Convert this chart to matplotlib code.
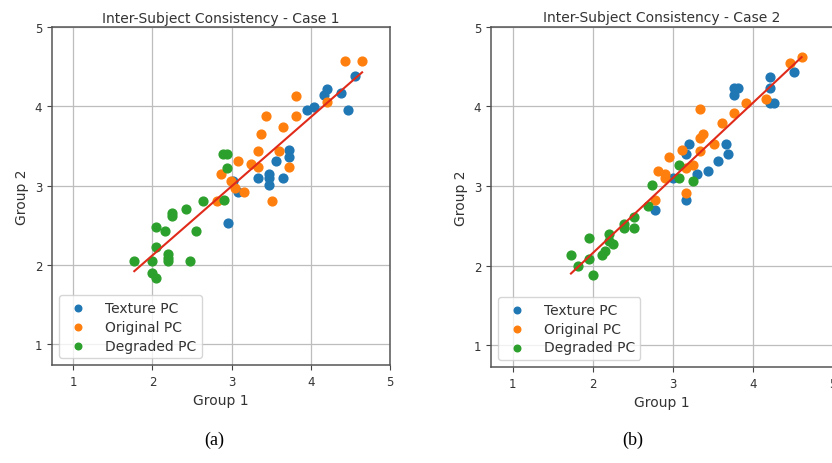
import numpy as np
import matplotlib
matplotlib.use("Agg")
import matplotlib.pyplot as plt

# ---- Case 1 ----
tex1_x = [4.56, 4.20, 4.17, 4.38, 3.95, 4.04, 4.47, 3.72, 3.72, 3.56, 3.47, 3.47, 3.33, 3.65, 3.47, 3.02, 3.08, 2.95]
tex1_y = [4.38, 4.22, 4.14, 4.17, 3.96, 3.99, 3.96, 3.45, 3.36, 3.31, 3.15, 3.09, 3.10, 3.10, 3.01, 3.06, 2.92, 2.53]
ori1_x = [4.43, 4.65, 3.81, 4.20, 3.43, 3.81, 3.65, 3.37, 3.33, 3.60, 3.08, 3.24, 3.33, 3.72, 2.86, 2.99, 3.04, 3.16, 2.81, 3.51]
ori1_y = [4.57, 4.57, 4.13, 4.05, 3.88, 3.88, 3.74, 3.65, 3.44, 3.44, 3.31, 3.27, 3.23, 3.23, 3.14, 3.06, 2.97, 2.92, 2.80, 2.80]
deg1_x = [2.89, 2.94, 2.94, 2.90, 2.64, 2.43, 2.25, 2.25, 2.04, 2.16, 2.55, 2.04, 2.20, 2.20, 2.20, 1.77, 1.99, 2.47, 1.99, 2.04]
deg1_y = [3.40, 3.40, 3.22, 2.82, 2.80, 2.70, 2.65, 2.61, 2.48, 2.43, 2.43, 2.22, 2.14, 2.09, 2.05, 2.05, 2.05, 2.05, 1.89, 1.83]

# ---- Case 2 ----
tex2_x = [4.52, 4.21, 4.21, 4.21, 4.26, 3.77, 3.82, 3.77, 3.66, 3.69, 3.56, 3.21, 3.17, 3.44, 3.30, 3.00, 3.17, 2.78]
tex2_y = [4.43, 4.37, 4.23, 4.05, 4.05, 4.23, 4.23, 4.14, 3.53, 3.40, 3.31, 3.53, 3.40, 3.19, 3.15, 3.10, 2.83, 2.70]
ori2_x = [4.61, 4.47, 4.17, 3.91, 3.77, 3.34, 3.62, 3.38, 3.34, 3.52, 3.34, 3.12, 2.95, 3.25, 3.17, 2.82, 2.90, 2.91, 3.17, 2.78]
ori2_y = [4.62, 4.54, 4.09, 4.05, 3.92, 3.97, 3.79, 3.66, 3.61, 3.53, 3.44, 3.45, 3.36, 3.27, 3.23, 3.19, 3.15, 3.10, 2.92, 2.83]
deg2_x = [3.08, 3.08, 3.26, 2.74, 2.69, 2.52, 2.52, 2.39, 2.39, 2.21, 2.25, 2.21, 2.16, 2.12, 1.95, 1.95, 1.82, 1.73, 2.00]
deg2_y = [3.27, 3.10, 3.06, 3.01, 2.75, 2.61, 2.48, 2.52, 2.48, 2.40, 2.27, 2.31, 2.19, 2.14, 2.35, 2.09, 2.00, 2.13, 1.88]

ticks = [1, 2, 3, 4, 5]

fig = plt.figure(figsize=(8.32, 4.64), dpi=100)
ax1 = fig.add_axes([0.0625, 0.211, 0.406, 0.728])
ax2 = fig.add_axes([0.590, 0.207, 0.411, 0.733])


def panel(ax, tx, ty, ox, oy, dx, dy, title):
    ax.scatter(tx, ty, color="tab:blue", s=40, label="Texture PC", zorder=3)
    ax.scatter(ox, oy, color="tab:orange", s=40, label="Original PC", zorder=3)
    ax.scatter(dx, dy, color="tab:green", s=40, label="Degraded PC", zorder=3)
    # recta de ajuste sobre todos los puntos
    allx = np.array(tx + ox + dx)
    ally = np.array(ty + oy + dy)
    k, b = np.polyfit(allx, ally, 1)
    xs = np.array([allx.min(), allx.max()])
    ax.plot(xs, k * xs + b, color="#e02a1a", lw=1.5, zorder=4)
    ax.set_xlim(0.73, 5)
    ax.set_ylim(0.73, 5)
    ax.set_xticks(ticks)
    ax.set_yticks(ticks)
    ax.tick_params(labelsize=8.5, color="#444444", labelcolor="#333333")
    ax.grid(True, color="#bdbdbd", lw=0.9)
    ax.set_axisbelow(True)
    for sp in ax.spines.values():
        sp.set_color("#555555")
        sp.set_linewidth(1.1)
    ax.set_title(title, fontsize=10, color="#333333", pad=4)
    ax.set_xlabel("Group 1", fontsize=10, color="#333333")
    ax.set_ylabel("Group 2", fontsize=10, color="#333333")
    leg = ax.legend(loc="lower left", fontsize=10, markerscale=0.75,
                    handletextpad=0.9, borderpad=0.4, labelspacing=0.35)
    for t in leg.get_texts():
        t.set_color("#333333")


panel(ax1, tex1_x, tex1_y, ori1_x, ori1_y, deg1_x, deg1_y,
      "Inter-Subject Consistency - Case 1")
panel(ax2, tex2_x, tex2_y, ori2_x, ori2_y, deg2_x, deg2_y,
      "Inter-Subject Consistency - Case 2")

fig.text(0.258, 0.052, "(a)", family="Liberation Serif", fontsize=13, ha="center", va="center")
fig.text(0.760, 0.052, "(b)", family="Liberation Serif", fontsize=13, ha="center", va="center")

fig.savefig("out.png", dpi=100)
